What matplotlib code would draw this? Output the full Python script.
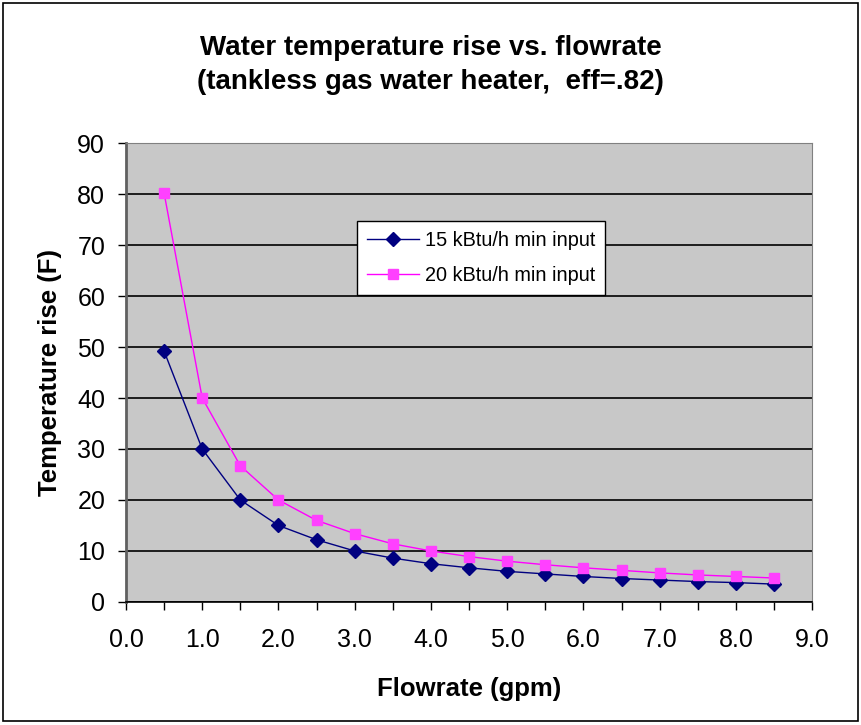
import matplotlib.pyplot as plt
from matplotlib.ticker import MultipleLocator, FormatStrFormatter
from matplotlib.patches import Rectangle

plt.rcParams['font.family'] = ['Liberation Sans', 'DejaVu Sans']

flow = [0.5, 1.0, 1.5, 2.0, 2.5, 3.0, 3.5, 4.0, 4.5, 5.0, 5.5, 6.0, 6.5, 7.0, 7.5, 8.0, 8.5]
rise_15k = [49.2, 30.0, 20.0, 15.0, 12.2, 10.0, 8.6, 7.5, 6.7, 6.0, 5.5, 5.0, 4.6, 4.3, 4.0, 3.8, 3.5]
rise_20k = [80.2, 40.0, 26.7, 20.0, 16.0, 13.4, 11.4, 10.0, 8.9, 8.0, 7.3, 6.7, 6.2, 5.7, 5.3, 5.0, 4.7]

fig = plt.figure(figsize=(8.61, 7.25), dpi=100)
# outer chart border
fig.patches.append(Rectangle((0.004, 0.006), 0.992, 0.99, transform=fig.transFigure,
                             fill=False, edgecolor='black', linewidth=1.2))

ax = fig.add_axes([0.1463, 0.1697, 0.797, 0.633])
ax.set_facecolor('#C8C8C8')

ax.plot(flow, rise_15k, color='#000080', linewidth=1, marker='D', markersize=7.5,
        markerfacecolor='#000080', markeredgecolor='#000080', label='15 kBtu/h min input', zorder=3)
ax.plot(flow, rise_20k, color='#FF00FF', linewidth=1, marker='s', markersize=7.5,
        markerfacecolor='#FF40FF', markeredgecolor='#FF40FF', label='20 kBtu/h min input', zorder=3)

ax.set_xlim(0, 9)
ax.set_ylim(0, 90)
ax.xaxis.set_major_locator(MultipleLocator(1.0))
ax.xaxis.set_minor_locator(MultipleLocator(0.5))
ax.xaxis.set_major_formatter(FormatStrFormatter('%.1f'))
ax.yaxis.set_major_locator(MultipleLocator(10))
ax.tick_params(axis='both', which='both', direction='out', length=6, width=1, labelsize=18, color='black')
ax.tick_params(axis='x', pad=13)
ax.tick_params(axis='y', pad=9)

ax.grid(axis='y', color='black', linewidth=1.2)
ax.set_axisbelow(True)

ax.spines['left'].set_color('#606060')
ax.spines['left'].set_linewidth(2)
ax.spines['bottom'].set_color('black')
ax.spines['bottom'].set_linewidth(1.2)
ax.spines['top'].set_color('#808080')
ax.spines['right'].set_color('#808080')

ax.set_xlabel('Flowrate (gpm)', fontsize=18.5, fontweight='bold', labelpad=18)
ax.set_ylabel('Temperature rise (F)', fontsize=18.5, fontweight='bold', labelpad=11)
fig.suptitle('Water temperature rise vs. flowrate\n(tankless gas water heater,  eff=.82)',
             x=0.5, y=0.952, fontsize=20, fontweight='bold', linespacing=1.43)

leg = ax.legend(loc='upper left', bbox_to_anchor=(0.337, 0.83), fontsize=14.3, frameon=True,
                fancybox=False, edgecolor='black', framealpha=1, handlelength=2.6,
                borderpad=0.5, labelspacing=0.8, handletextpad=0.3, borderaxespad=0)
leg.get_frame().set_linewidth(1)

fig.savefig('out.png', dpi=100)
